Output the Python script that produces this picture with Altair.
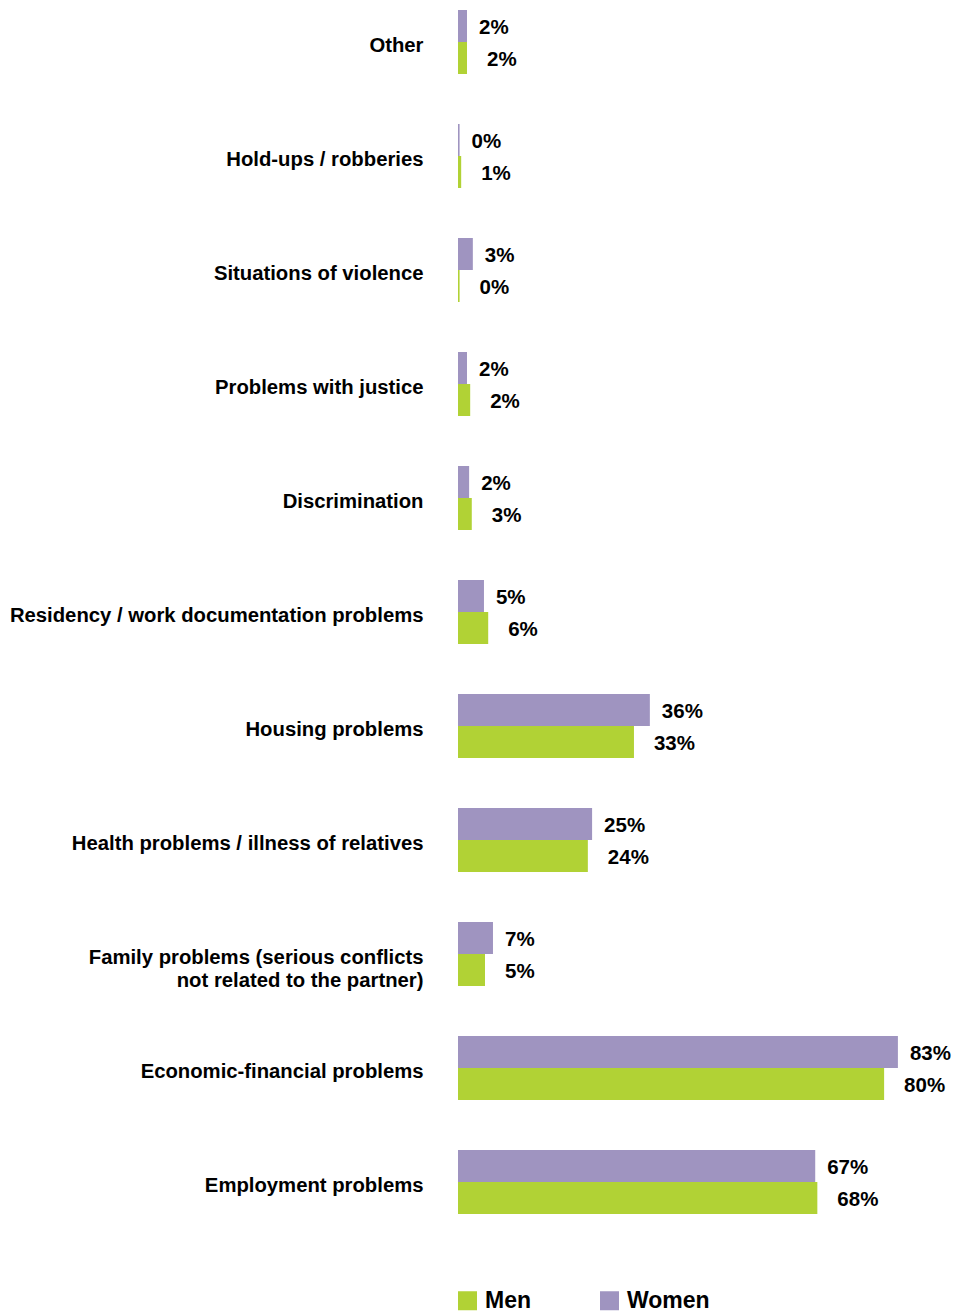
import altair as alt
import pandas as pd

categories = [
    "Other",
    "Hold-ups / robberies",
    "Situations of violence",
    "Problems with justice",
    "Discrimination",
    "Residency / work documentation problems",
    "Housing problems",
    "Health problems / illness of relatives",
    "Family problems (serious conflicts|not related to the partner)",
    "Economic-financial problems",
    "Employment problems",
]
women = [1.7, 0.3, 2.8, 1.7, 2.1, 4.9, 36.2, 25.3, 6.6, 83.0, 67.4]
men = [1.7, 0.6, 0.3, 2.3, 2.6, 5.7, 33.2, 24.5, 5.1, 80.4, 67.8]
women_labels = ["2%", "0%", "3%", "2%", "2%", "5%", "36%", "25%", "7%", "83%", "67%"]
men_labels = ["2%", "1%", "0%", "2%", "3%", "6%", "33%", "24%", "5%", "80%", "68%"]

rows = []
for c, w, m, wl, ml in zip(categories, women, men, women_labels, men_labels):
    rows.append({"category": c, "gender": "Women", "value": w, "label": wl})
    rows.append({"category": c, "gender": "Men", "value": m, "label": ml})
df = pd.DataFrame(rows)

FONT = "Liberation Sans"

y_enc = alt.Y(
    "category:N",
    sort=categories,
    scale=alt.Scale(paddingInner=0.4386, paddingOuter=0.0877),
    axis=alt.Axis(
        title=None, domain=False, ticks=False, labelPadding=35,
        labelFont=FONT, labelFontSize=20.3, labelFontWeight="bold", labelColor="#000",
        labelLimit=600, labelLineHeight=23, labelOffset=4,
        labelExpr="split(datum.label, '|')",
    ),
)
x_enc = alt.X("value:Q", scale=alt.Scale(domain=[0, 90]), axis=None)
yoff = alt.YOffset("gender:N", sort=["Women", "Men"])

base = alt.Chart(df)

bars = base.mark_bar(size=32).encode(
    y=y_enc,
    x=x_enc,
    yOffset=yoff,
    color=alt.Color(
        "gender:N",
        scale=alt.Scale(domain=["Men", "Women"], range=["#b1d235", "#9f94c0"]),
        legend=alt.Legend(
            title=None, orient="none", direction="horizontal", columns=2,
            legendX=-2, legendY=1289,
            symbolType="square", symbolSize=361, symbolStrokeWidth=0,
            labelFont=FONT, labelFontSize=23, labelFontWeight="bold", labelColor="#000",
            labelOffset=6, columnPadding=67,
        ),
    ),
)

text_w = base.transform_filter(alt.datum.gender == "Women").mark_text(
    align="left", baseline="middle", dx=12, dy=2,
    font=FONT, fontSize=20.5, fontWeight="bold", color="#000",
).encode(y=y_enc, x=x_enc, yOffset=yoff, text="label:N")

text_m = base.transform_filter(alt.datum.gender == "Men").mark_text(
    align="left", baseline="middle", dx=20, dy=2,
    font=FONT, fontSize=20.5, fontWeight="bold", color="#000",
).encode(y=y_enc, x=x_enc, yOffset=yoff, text="label:N")

chart = alt.layer(bars, text_w, text_m).properties(
    width=477, height=1224,
    background="white",
    autosize=alt.AutoSizeParams(type="none"),
    padding={"left": 458, "top": 0, "right": 22, "bottom": 89},
).configure_view(strokeWidth=0, stroke="transparent")

chart.save("out.html", embed_options={"renderer": "svg", "actions": False})
